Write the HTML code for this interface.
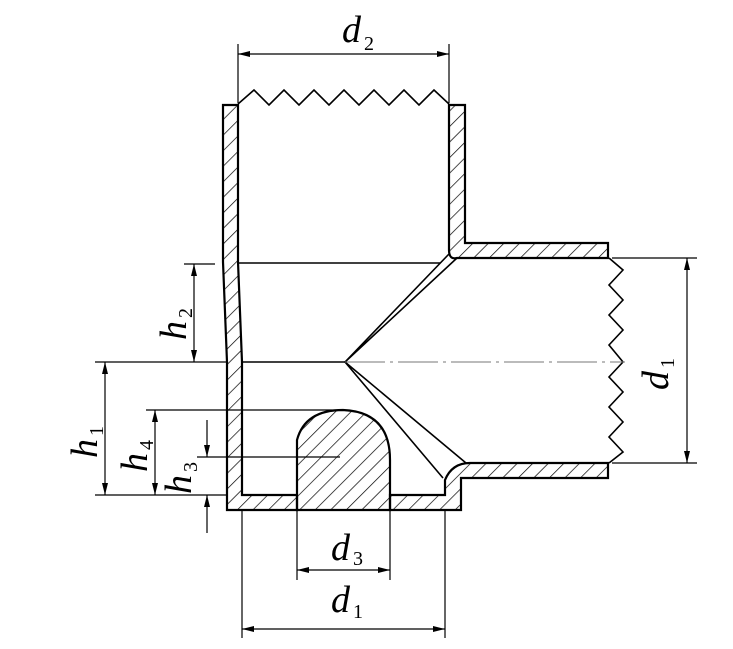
<!DOCTYPE html>
<html><head><meta charset="utf-8"><style>
html,body{margin:0;padding:0;background:#fff}
svg{display:block}
text{font-family:"Liberation Serif",serif;font-style:italic;fill:#000}
.s{font-style:normal}
</style></head><body>
<svg width="733" height="649" viewBox="0 0 733 649" xmlns="http://www.w3.org/2000/svg">
<defs>
<pattern id="h" patternUnits="userSpaceOnUse" width="11" height="11" patternTransform="rotate(45)">
<line x1="0" y1="0" x2="0" y2="11" stroke="#000" stroke-width="1.4"/>
</pattern>
<marker id="a" viewBox="0 0 12 6" refX="12" refY="3" markerWidth="12" markerHeight="6" orient="auto-start-reverse" markerUnits="userSpaceOnUse">
<path d="M0,0 L12,3 L0,6 z" fill="#000"/>
</marker>
</defs>
<g stroke="#000" stroke-width="2.2" fill="url(#h)" stroke-linejoin="miter">
<path d="M223,105 L238,105 L238,262 L242,362 L242,495 L297,495 L297,510 L227,510 L227,362 L223,262 Z"/>
<path d="M449,105 L465,105 L465,243 L608,243 L608,258 L457,258 Q449,260 449,250 Z"/>
<path d="M470,463 L608,463 L608,478 L461,478 L461,510 L390,510 L390,495 L445,495 L445,480 Q452,463 470,463 Z"/>
<path d="M297,510 L297,440 Q305,410 343,410 Q390,412 390,460 L390,510 Z"/>
</g>
<g stroke="#000" stroke-width="1.6" fill="none">
<polyline points="238,104 254,90 269,105 284,90 299,105 314,90 329,105 344,90 359,105 374,90 389,105 404,90 419,105 434,90 449,104"/>
<polyline points="609,258 623,270 609,285 623,300 609,315 623,330 609,345 623,362 609,377 623,392 609,407 623,422 609,437 623,452 609,463"/>
<line x1="238" y1="263" x2="440" y2="263"/>
<line x1="242" y1="362" x2="345" y2="362"/>
<path d="M345,362 L449,254 M345,362 L457,258"/>
<path d="M345,362 L443,478 M345,362 L466,463"/>
</g>
<line x1="345" y1="362" x2="625" y2="362" stroke="#777" stroke-width="1" stroke-dasharray="40,5,3,5"/>
<g stroke="#000" stroke-width="1.2" fill="none">
<line x1="238" y1="44" x2="238" y2="103"/>
<line x1="449" y1="44" x2="449" y2="103"/>
<line x1="238" y1="54" x2="449" y2="54" marker-start="url(#a)" marker-end="url(#a)"/>
<line x1="612" y1="258" x2="697" y2="258"/>
<line x1="612" y1="463" x2="697" y2="463"/>
<line x1="687" y1="258" x2="687" y2="463" marker-start="url(#a)" marker-end="url(#a)"/>
<line x1="184" y1="264" x2="215" y2="264"/>
<line x1="194" y1="264" x2="194" y2="362" marker-start="url(#a)" marker-end="url(#a)"/>
<line x1="95" y1="362" x2="227" y2="362"/>
<line x1="95" y1="495" x2="227" y2="495"/>
<line x1="105" y1="362" x2="105" y2="495" marker-start="url(#a)" marker-end="url(#a)"/>
<line x1="146" y1="410" x2="345" y2="410"/>
<line x1="155" y1="410" x2="155" y2="495" marker-start="url(#a)" marker-end="url(#a)"/>
<line x1="197" y1="457" x2="340" y2="457"/>
<line x1="207" y1="420" x2="207" y2="457" marker-end="url(#a)"/>
<line x1="207" y1="533" x2="207" y2="495" marker-end="url(#a)"/>
<line x1="242" y1="510" x2="242" y2="638"/>
<line x1="297" y1="510" x2="297" y2="580"/>
<line x1="390" y1="510" x2="390" y2="580"/>
<line x1="445" y1="510" x2="445" y2="638"/>
<line x1="297" y1="570" x2="390" y2="570" marker-start="url(#a)" marker-end="url(#a)"/>
<line x1="242" y1="629" x2="445" y2="629" marker-start="url(#a)" marker-end="url(#a)"/>
</g>
<text x="342" y="42" font-size="38">d</text><text class="s" x="364" y="50" font-size="20">2</text>
<text x="331" y="560" font-size="38">d</text><text class="s" x="353" y="565" font-size="20">3</text>
<text x="331" y="612" font-size="38">d</text><text class="s" x="353" y="618" font-size="20">1</text>
<g transform="translate(668,390) rotate(-90)"><text x="0" y="0" font-size="38">d</text><text class="s" x="22" y="6" font-size="20">1</text></g>
<g transform="translate(186,340) rotate(-90)"><text x="0" y="0" font-size="38">h</text><text class="s" x="22" y="6" font-size="20">2</text></g>
<g transform="translate(97,458) rotate(-90)"><text x="0" y="0" font-size="38">h</text><text class="s" x="22" y="6" font-size="20">1</text></g>
<g transform="translate(147,472) rotate(-90)"><text x="0" y="0" font-size="38">h</text><text class="s" x="22" y="6" font-size="20">4</text></g>
<g transform="translate(191,494) rotate(-90)"><text x="0" y="0" font-size="38">h</text><text class="s" x="22" y="6" font-size="20">3</text></g>
</svg>
</body></html>
